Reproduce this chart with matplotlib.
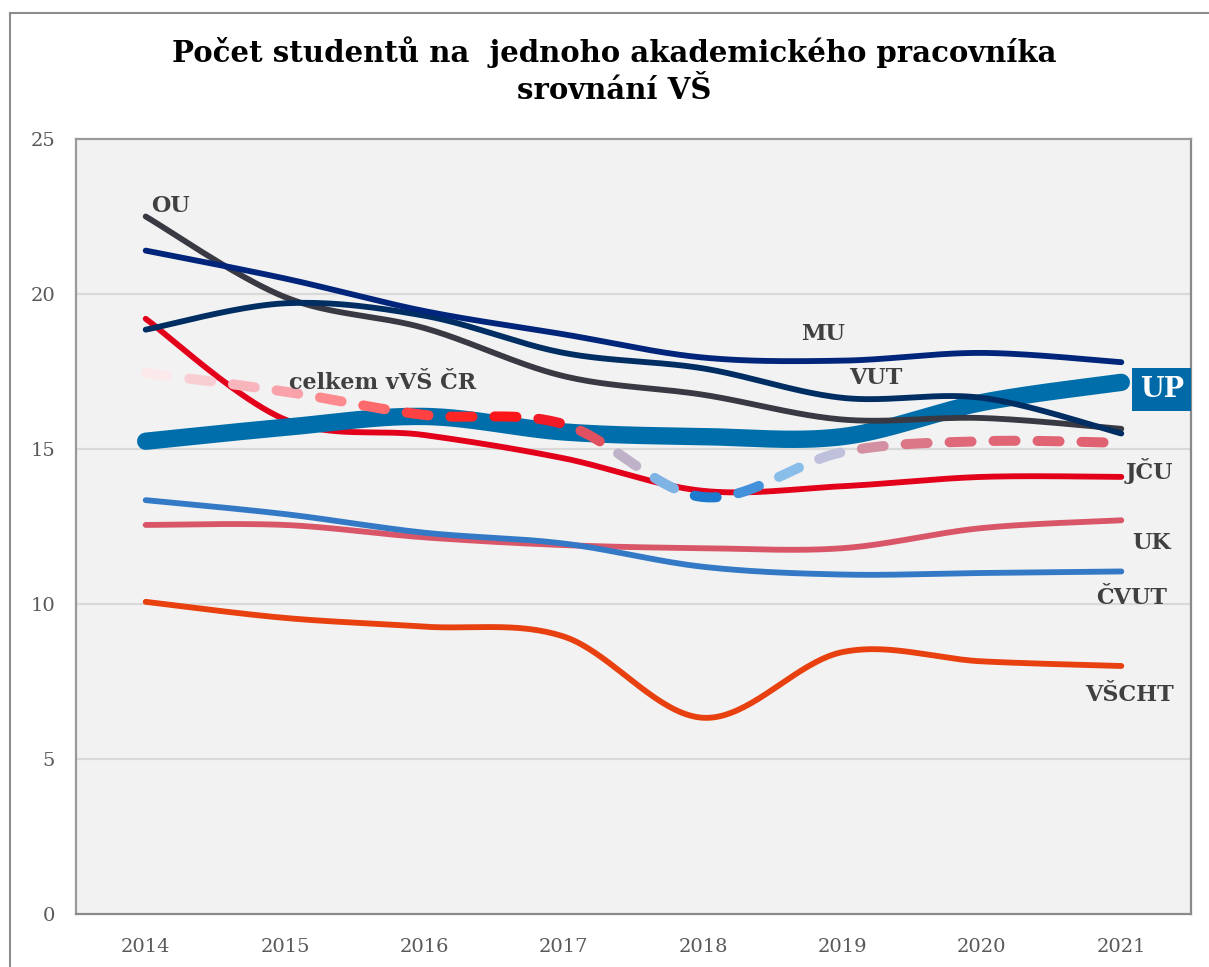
import numpy as np
import matplotlib
matplotlib.use("Agg")
import matplotlib.pyplot as plt
from matplotlib.colors import LinearSegmentedColormap
from matplotlib.lines import Line2D

# ---------------- data ----------------
years = [2014, 2015, 2016, 2017, 2018, 2019, 2020, 2021]
ou = [22.5, 19.9, 18.9, 17.35, 16.75, 15.95, 16.0, 15.65]
mu = [21.4, 20.5, 19.45, 18.7, 17.95, 17.85, 18.1, 17.8]
vut = [18.85, 19.7, 19.3, 18.1, 17.6, 16.65, 16.65, 15.5]
up = [15.25, 15.7, 16.05, 15.55, 15.4, 15.4, 16.5, 17.15]
jcu = [19.2, 15.95, 15.45, 14.7, 13.65, 13.8, 14.1, 14.1]
celkem = [17.45, 16.85, 16.1, 15.8, 13.45, 14.9, 15.25, 15.2]
uk = [12.55, 12.55, 12.15, 11.9, 11.8, 11.8, 12.45, 12.7]
cvut = [13.35, 12.9, 12.3, 11.95, 11.2, 10.95, 11.0, 11.05]
vscht = [10.07, 9.55, 9.27, 8.95, 6.33, 8.45, 8.15, 8.0]

yticks = [0, 5, 10, 15, 20, 25]
title = "Počet studentů na  jednoho akademického pracovníka\nsrovnání VŠ"

FONT = "DejaVu Serif"
LABEL_COLOR = "#404040"


def smooth(xs, ys, n=40):
    """Excel-like smoothed line (Bezier through the points)."""
    P = np.column_stack([xs, ys]).astype(float)
    m = len(P)
    out = []
    for i in range(m - 1):
        p0 = P[i - 1] if i > 0 else P[i]
        p1, p2 = P[i], P[i + 1]
        p3 = P[i + 2] if i + 2 < m else P[i + 1]
        c1 = p1 + (p2 - p0) / 6.0
        c2 = p2 - (p3 - p1) / 6.0
        t = np.linspace(0, 1, n, endpoint=(i == m - 2))[:, None]
        seg = (1 - t) ** 3 * p1 + 3 * (1 - t) ** 2 * t * c1 + 3 * (1 - t) * t ** 2 * c2 + t ** 3 * p2
        out.append(seg)
    return np.vstack(out)


fig = plt.figure(figsize=(12.09, 9.67), dpi=100)
fig.patch.set_facecolor("white")

# outer chart frame (partially visible)
fx = 10 / 1209
fy = 1 - 13 / 967
fig.add_artist(Line2D([fx, fx], [0, fy], transform=fig.transFigure, color="#8c8c8c", lw=1.5))
fig.add_artist(Line2D([fx, 1], [fy, fy], transform=fig.transFigure, color="#8c8c8c", lw=1.5))

left, right = 76 / 1209, 1191 / 1209
bottom, top = 1 - 914 / 967, 1 - 139 / 967
ax = fig.add_axes([left, bottom, right - left, top - bottom])
ax.set_facecolor("#f2f2f2")
ax.set_xlim(2013.5, 2021.5)
ax.set_ylim(0, 25)

for s in ax.spines.values():
    s.set_color("#9a9a9a")
    s.set_linewidth(1.6)
ax.spines["right"].set_color("#8a8a8a")
ax.spines["bottom"].set_color("#8a8a8a")

ax.set_yticks(yticks)
ax.set_yticklabels([str(v) for v in yticks])
ax.set_xticks(years)
ax.set_xticklabels([str(y) for y in years])
ax.tick_params(length=0, labelsize=14, labelcolor="#595959")
ax.tick_params(axis="y", pad=15)
ax.tick_params(axis="x", pad=17)
for lab in ax.get_xticklabels() + ax.get_yticklabels():
    lab.set_family(FONT)
for v in yticks[1:-1]:
    ax.axhline(v, color="#d9d9d9", lw=1.6, zorder=1)

# thin series underneath
series_bottom = [
    (jcu, "#e2001a"),
    (uk, "#d95668"),
    (cvut, "#3479c6"),
    (vscht, "#e8400f"),
]
for vals, col in series_bottom:
    c = smooth(years, vals)
    ax.plot(c[:, 0], c[:, 1], color=col, lw=4.2, solid_capstyle="round", zorder=3)

# UP thick line
c = smooth(years, up)
ax.plot(c[:, 0], c[:, 1], color="#006eaa", lw=12.5, solid_capstyle="round", zorder=4)

# dark lines on top
for vals, col in [(ou, "#393944"), (vut, "#002d62"), (mu, "#00257a")]:
    c = smooth(years, vals)
    ax.plot(c[:, 0], c[:, 1], color=col, lw=4.2, solid_capstyle="round", zorder=5)

# gradient dashed "celkem" line
stops = [
    (2014.0, "#fdf0f2"), (2014.5, "#f8c4ca"), (2015.0, "#f9a3aa"),
    (2015.5, "#fd7c80"), (2016.0, "#ff3a3a"), (2016.5, "#ff1515"),
    (2017.0, "#f01a2a"), (2017.2, "#e05565"), (2017.4, "#c8a8b8"),
    (2017.6, "#a8c8ea"), (2017.8, "#6aa8e0"), (2018.0, "#1a78cc"),
    (2018.3, "#3a8cd8"), (2018.6, "#80b8e8"), (2018.8, "#b0d0f0"),
    (2019.0, "#c8b4cc"), (2019.3, "#d48898"), (2019.7, "#e06a7a"),
    (2021.0, "#e06070"),
]
x0, x1 = stops[0][0], stops[-1][0]
cmap = LinearSegmentedColormap.from_list(
    "grad", [((x - x0) / (x1 - x0), col) for x, col in stops])

curve = smooth(years, celkem, n=200)
disp = ax.transData.transform(curve)
seglen = np.hypot(*np.diff(disp, axis=0).T)
s = np.concatenate([[0], np.cumsum(seglen)])
on, off = 22.0, 22.0
start = 0.0
inv = ax.transData.inverted()
while start < s[-1]:
    end = min(start + on, s[-1])
    ss = np.linspace(start, end, 12)
    px = np.interp(ss, s, disp[:, 0])
    py = np.interp(ss, s, disp[:, 1])
    pts = inv.transform(np.column_stack([px, py]))
    xm = pts[len(pts) // 2, 0]
    col = cmap((xm - x0) / (x1 - x0))
    ax.plot(pts[:, 0], pts[:, 1], color=col, lw=7.2, solid_capstyle="round", zorder=6)
    start += on + off

# labels
lab_kw = dict(family=FONT, fontweight="bold", color=LABEL_COLOR, fontsize=16, va="center", zorder=8)
ax.text(2014.04, 22.84, "OU", ha="left", **lab_kw)
ax.text(2015.03, 17.12, "celkem vVŠ ČR", ha="left", **lab_kw)
ax.text(2018.70, 18.70, "MU", ha="left", **lab_kw)
ax.text(2019.05, 17.28, "VUT", ha="left", **lab_kw)
ax.text(2021.03, 14.28, "JČU", ha="left", **lab_kw)
ax.text(2021.08, 11.98, "UK", ha="left", **lab_kw)
ax.text(2020.82, 10.20, "ČVUT", ha="left", **lab_kw)
ax.text(2020.74, 7.07, "VŠCHT", ha="left", **lab_kw)

ax.text(2021.29, 16.92, "UP", ha="center", va="center", family=FONT, fontweight="bold",
        color="white", fontsize=19.5, zorder=9, clip_on=True,
        bbox=dict(boxstyle="square,pad=0.3", fc="#006aa8", ec="none"))

fig.text(614 / 1209, 1 - 71 / 967, title, ha="center", va="center", family=FONT,
         fontweight="bold", fontsize=21, color="black", linespacing=1.35)

fig.savefig("out.png", dpi=100)
